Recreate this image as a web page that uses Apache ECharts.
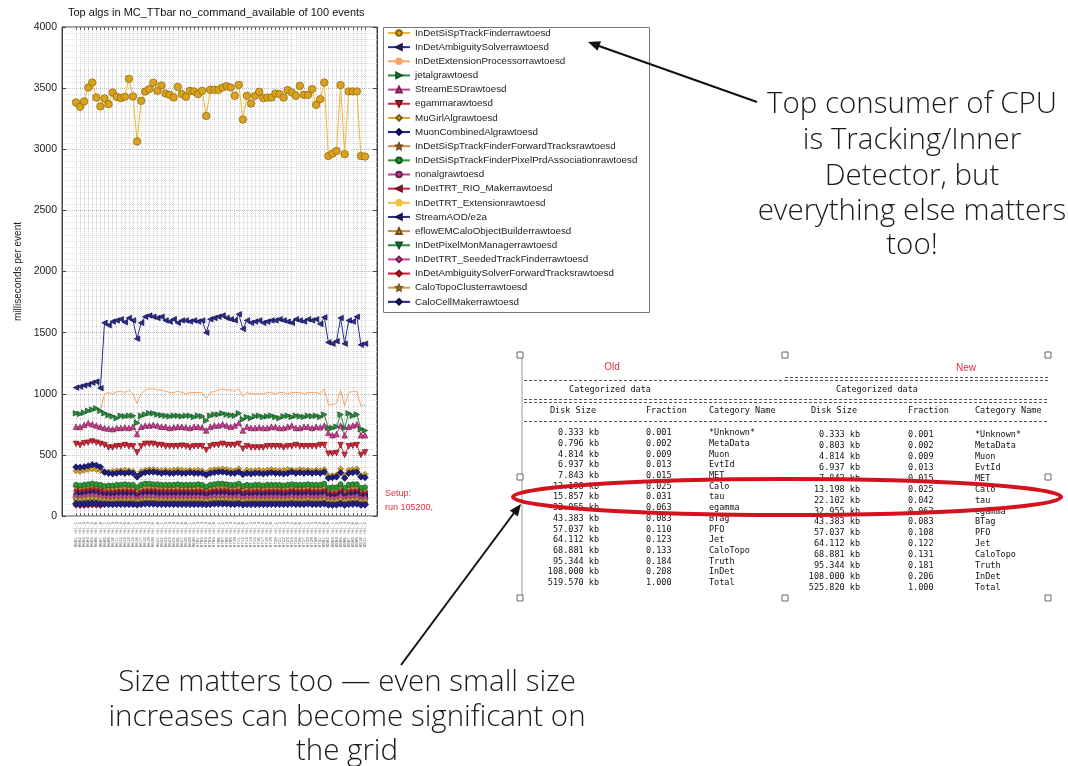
<!DOCTYPE html>
<html><head><meta charset="utf-8">
<script src="https://cdn.jsdelivr.net/npm/echarts@6/dist/echarts.min.js"></script>
<style>html,body{margin:0;padding:0;background:#fff}#c{width:1068px;height:766px}</style>
</head><body><div id="c"></div>
<script>
const chartTitle = "Top algs in MC_TTbar no_command_available of 100 events";
const yTicks = [0, 500, 1000, 1500, 2000, 2500, 3000, 3500, 4000];
const events = [
"0601 rel_1","0602 rel_2","0603 rel_3","0604 rel_4","0605 rel_5","0606 rel_6","0607 rel_0","0608 rel_1","0609 rel_2","0610 rel_3","0611 rel_4","0612 rel_5",
"0613 rel_6","0614 rel_0","0615 rel_1","0616 rel_2","0617 rel_3","0618 rel_4","0619 rel_5","0620 rel_6","0621 rel_0","0622 rel_1","0623 rel_2","0624 rel_3",
"0625 rel_4","0626 rel_5","0627 rel_6","0628 rel_0","0629 rel_1","0630 rel_2","0701 rel_3","0702 rel_4","0703 rel_5","0704 rel_6","0705 rel_0","0706 rel_1",
"0707 rel_2","0708 rel_3","0709 rel_4","0710 rel_5","0711 rel_6","0712 rel_0","0713 rel_1","0714 rel_2","0715 rel_3","0716 rel_4","0717 rel_5","0718 rel_6",
"0719 rel_0","0720 rel_1","0721 rel_2","0722 rel_3","0723 rel_4","0724 rel_5","0725 rel_6","0726 rel_0","0727 rel_1","0728 rel_2","0729 rel_3","0730 rel_4",
"0731 rel_5","0801 rel_6","0802 rel_0","0803 rel_1","0804 rel_2","0805 rel_3","0806 rel_4","0807 rel_5","0808 rel_6","0809 rel_0","0810 rel_1","0811 rel_2"];

const algNames = [
"InDetSiSpTrackFinderrawtoesd","InDetAmbiguitySolverrawtoesd","InDetExtensionProcessorrawtoesd","jetalgrawtoesd",
"StreamESDrawtoesd","egammarawtoesd","MuGirlAlgrawtoesd","MuonCombinedAlgrawtoesd",
"InDetSiSpTrackFinderForwardTracksrawtoesd","InDetSiSpTrackFinderPixelPrdAssociationrawtoesd","nonalgrawtoesd","InDetTRT_RIO_Makerrawtoesd",
"InDetTRT_Extensionrawtoesd","StreamAOD/e2a","eflowEMCaloObjectBuilderrawtoesd","InDetPixelMonManagerrawtoesd",
"InDetTRT_SeededTrackFinderrawtoesd","InDetAmbiguitySolverForwardTracksrawtoesd","CaloTopoClusterrawtoesd","CaloCellMakerrawtoesd"];

const siSpTrackFinder = [3383,3347,3391,3505,3546,3423,3350,3415,3369,3464,3429,3418,
 3429,3576,3432,3063,3396,3473,3492,3544,3478,3522,3456,3445,
 3423,3511,3451,3429,3478,3473,3451,3478,3273,3486,3486,3486,
 3505,3516,3505,3437,3527,3243,3437,3374,3437,3470,3418,3423,
 3423,3456,3451,3423,3484,3464,3437,3519,3445,3445,3492,3363,
 3410,3546,2945,2964,2986,3525,2959,3473,3473,3473,2945,2940];
const ambiguitySolver = [1050,1058,1068,1075,1090,1100,1045,1580,1560,1590,1600,1610,
 1585,1620,1600,1450,1580,1630,1640,1630,1620,1630,1600,1590,
 1610,1580,1600,1600,1590,1600,1590,1600,1500,1610,1620,1630,
 1640,1620,1610,1600,1650,1530,1600,1580,1590,1600,1580,1590,
 1600,1600,1610,1600,1590,1580,1610,1600,1590,1610,1600,1610,
 1570,1625,1420,1410,1430,1620,1410,1600,1590,1630,1400,1410];
const extensionProcessor = [null,null,null,null,null,null,855,1000,1010,1000,1015,1020,
 1010,1030,1000,920,1000,1030,1040,1040,1030,1030,1020,1010,
 1010,1020,1010,1000,1010,1010,1010,1010,960,1010,1020,1030,
 1040,1030,1030,1020,1040,980,1010,1000,1000,1000,1000,1010,
 1010,1000,1010,1010,1000,1010,1010,1010,1000,1010,1010,1010,
 1000,1040,910,910,920,1030,900,1010,1020,1020,900,910];
const jetalg = [840,835,845,860,870,880,860,840,825,815,800,820,
 815,820,820,760,820,830,840,840,830,825,820,815,
 820,820,815,820,820,810,820,815,780,820,830,830,
 840,830,825,820,840,790,810,800,815,820,810,815,
 820,810,800,815,820,810,820,815,810,820,815,820,
 810,830,720,720,730,830,720,840,820,830,710,700];
const streamESD = [730,728,745,760,750,740,730,720,715,710,720,720,
 725,720,730,670,730,740,740,745,740,730,730,720,
 725,730,730,725,720,730,730,725,700,730,740,740,
 750,740,730,740,760,700,730,720,720,725,720,720,
 730,728,720,720,730,740,720,720,730,730,720,730,
 725,740,680,660,670,740,660,730,740,750,660,660];
const egamma = [590,580,595,600,610,600,590,580,560,560,570,570,
 580,570,570,520,570,590,590,590,580,580,570,570,
 570,570,575,570,560,570,570,570,540,570,580,580,
 590,580,580,580,590,550,570,560,560,560,560,570,
 570,570,570,560,570,570,580,570,570,570,570,570,
 580,580,510,510,515,580,500,570,575,580,500,520];
const muGirl = [370,365,375,380,385,380,370,355,360,365,370,370,
 375,370,365,330,365,375,380,380,375,370,375,370,
 375,380,375,370,375,370,375,370,350,375,380,380,
 385,380,375,370,385,350,375,370,370,375,370,375,
 380,375,370,375,380,375,370,380,375,375,370,375,
 370,380,330,330,335,385,330,375,380,385,330,340];
const muonCombined = [400,398,402,410,420,415,400,360,350,345,350,355,
 350,355,350,320,345,355,360,360,355,350,355,350,
 350,355,350,350,355,350,350,350,335,350,355,360,
 360,355,350,350,360,340,350,345,350,350,345,350,
 355,350,350,345,350,360,350,355,350,355,350,355,
 350,360,310,315,320,355,310,350,355,360,320,315];
const forwardTracks = [235,230,240,245,250,245,235,225,225,220,225,225,
 230,225,225,200,225,230,235,235,230,230,225,225,
 225,230,225,225,225,225,230,225,210,225,230,230,
 235,230,225,225,235,215,225,220,225,225,220,225,
 225,225,225,220,225,230,225,225,225,230,225,225,
 225,235,200,200,205,230,200,225,230,230,200,205];
const pixelPrdAssoc = [255,250,255,260,265,260,255,245,250,250,255,255,
 260,255,255,235,255,265,265,260,260,255,255,255,
 255,260,255,255,255,255,260,255,240,255,260,265,
 265,260,255,255,265,245,255,250,255,255,250,255,
 255,255,255,250,255,260,255,255,255,260,255,255,
 255,265,230,235,235,260,230,255,260,260,230,235];
const nonalg = [170,165,170,175,180,175,170,165,160,160,165,165,
 165,165,165,150,165,170,170,170,165,165,165,165,
 165,165,165,165,165,165,165,165,155,165,170,170,
 170,170,165,165,170,155,165,160,165,165,160,165,
 165,165,165,160,165,170,165,165,165,170,165,165,
 165,170,150,150,150,170,150,165,165,170,150,150];
const trtRioMaker = [205,200,205,210,215,210,205,195,195,195,200,200,
 200,200,200,185,200,205,205,205,200,200,200,200,
 200,200,200,200,200,200,200,200,190,200,205,205,
 205,205,200,200,205,190,200,195,200,200,195,200,
 200,200,200,195,200,205,200,200,200,205,200,200,
 200,205,185,185,185,205,185,200,200,205,185,185];
const trtExtension = [218,212,216,222,228,221,214,208,211,206,210,212,
 209,211,210,194,209,216,214,217,211,209,212,208,
 210,213,209,211,208,210,212,209,199,211,214,216,
 217,213,211,209,216,201,210,206,209,211,204,210,
 211,208,210,206,209,214,211,209,210,216,209,211,
 208,216,196,194,197,214,195,209,211,216,194,196];
const streamAOD = [185,180,185,190,195,190,180,175,175,175,180,180,
 180,180,178,165,180,185,185,185,180,180,180,178,
 180,180,180,180,180,178,180,180,170,180,185,185,
 185,185,180,180,185,172,180,175,180,180,176,180,
 180,180,180,176,180,185,180,180,180,185,180,180,
 180,185,168,165,168,185,166,180,182,185,166,168];
const eflowEMCalo = [150,145,150,155,160,155,148,142,142,140,145,145,
 145,145,145,132,145,150,150,150,145,145,145,145,
 145,145,145,145,145,145,145,145,138,145,150,150,
 150,150,145,145,150,138,145,142,145,145,142,145,
 145,145,145,142,145,150,145,145,145,150,145,145,
 145,150,135,133,135,150,134,145,146,150,134,135];
const pixelMon = [128,125,128,132,135,132,126,122,122,120,124,124,
 124,124,124,115,124,128,128,128,124,124,124,124,
 124,124,124,124,124,124,124,124,118,124,128,128,
 128,128,124,124,128,118,124,122,124,124,122,124,
 124,124,124,122,124,128,124,124,124,128,124,124,
 124,128,116,115,116,128,115,124,125,128,115,116];
const trtSeeded = [160,155,160,165,168,165,158,152,152,150,155,155,
 155,155,155,142,155,160,160,160,155,155,155,155,
 155,155,155,155,155,155,155,155,148,155,160,160,
 160,160,155,155,160,148,155,152,155,155,152,155,
 155,155,155,152,155,160,155,155,155,160,155,155,
 155,160,145,143,145,160,144,155,156,160,144,145];
const ambSolverFwd = [88,85,86,88,90,88,86,110,112,110,112,112,
 112,112,112,104,112,115,115,115,112,112,112,112,
 112,112,112,112,112,112,112,112,108,112,115,115,
 115,115,112,112,115,106,112,110,112,112,110,112,
 112,112,112,110,112,115,112,112,112,115,112,112,
 112,115,104,103,104,115,103,112,113,115,103,104];
const caloTopo = [140,136,140,145,148,145,138,132,132,130,134,134,
 134,134,134,124,134,138,138,138,134,134,134,134,
 134,134,134,134,134,134,134,134,128,134,138,138,
 138,138,134,134,138,128,134,132,134,134,132,134,
 134,134,134,132,134,138,134,134,134,138,134,134,
 134,138,126,125,126,138,125,134,135,138,125,126];
const caloCellMaker = [100,98,100,102,104,102,99,96,96,95,97,97,
 97,97,97,92,97,100,100,100,97,97,97,97,
 97,97,97,97,97,97,97,97,94,97,100,100,
 100,100,97,97,100,93,97,96,97,97,96,97,
 97,97,97,96,97,100,97,97,97,100,97,97,
 97,100,92,91,92,100,91,97,98,100,91,92];

const seriesValues = [siSpTrackFinder, ambiguitySolver, extensionProcessor, jetalg, streamESD, egamma, muGirl, muonCombined,
  forwardTracks, pixelPrdAssoc, nonalg, trtRioMaker, trtExtension, streamAOD, eflowEMCalo, pixelMon, trtSeeded, ambSolverFwd, caloTopo, caloCellMaker];

// table (Old / New)
const catNames = ["*Unknown*","MetaData","Muon","EvtId","MET","Calo","tau","egamma","BTag","PFO","Jet","CaloTopo","Truth","InDet","Total"];
const oldSize = ["0.333","0.796","4.814","6.937","7.843","13.198","15.857","32.955","43.383","57.037","64.112","68.881","95.344","108.000","519.570"];
const oldFrac = ["0.001","0.002","0.009","0.013","0.015","0.025","0.031","0.063","0.083","0.110","0.123","0.133","0.184","0.208","1.000"];
const newSize = ["0.333","0.803","4.814","6.937","7.842","13.198","22.102","32.955","43.383","57.037","64.112","68.881","95.344","108.000","525.820"];
const newFrac = ["0.001","0.002","0.009","0.013","0.015","0.025","0.042","0.063","0.083","0.108","0.122","0.131","0.181","0.206","1.000"];

// styles
const STAR = 'path://M0,-10L2.9,-4L9.5,-3.1L4.7,1.5L5.9,8.1L0,5L-5.9,8.1L-4.7,1.5L-9.5,-3.1L-2.9,-4Z';
const THIN = 'path://M0,-10L4.5,0L0,10L-4.5,0Z';
const styles = [
 {c:'#f0b532', f:'#d9a21c', b:'#8a6510', s:'circle', z:7.5, r:0},
 {c:'#2b2b8c', f:'#2b2b8c', b:'#15154a', s:'triangle', z:5.5, r:90},
 {c:'#f6a66a', f:'#f6a66a', b:'#f6a66a', s:'none', z:0, r:0},
 {c:'#2a8a3e', f:'#2a8a3e', b:'#145020', s:'triangle', z:5.5, r:-90},
 {c:'#c2418e', f:'#c2418e', b:'#7a2050', s:'triangle', z:5.5, r:0},
 {c:'#d12a3a', f:'#d12a3a', b:'#7a1018', s:'triangle', z:5.5, r:180},
 {c:'#d8a52a', f:'#d8a52a', b:'#7a5a10', s:'diamond', z:6, r:0},
 {c:'#1e1e85', f:'#1e1e85', b:'#0a0a40', s:'diamond', z:6.5, r:0},
 {c:'#d2874a', f:'#d2874a', b:'#7a4a18', s:STAR, z:6, r:0},
 {c:'#2a9a35', f:'#2a9a35', b:'#145a18', s:'circle', z:5, r:0},
 {c:'#c23a92', f:'#c23a92', b:'#702050', s:'circle', z:5, r:0},
 {c:'#c5253a', f:'#c5253a', b:'#701018', s:'triangle', z:5, r:90},
 {c:'#f2c23c', f:'#f2c23c', b:'#f2c23c', s:'none', z:0, r:0},
 {c:'#2b2b8c', f:'#2b2b8c', b:'#15154a', s:'triangle', z:5, r:90},
 {c:'#d2874a', f:'#d2874a', b:'#7a4a18', s:'triangle', z:5, r:0},
 {c:'#2a8a3e', f:'#2a8a3e', b:'#145020', s:'triangle', z:5, r:180},
 {c:'#d04aa2', f:'#d04aa2', b:'#702050', s:THIN, z:6, r:0},
 {c:'#e0142a', f:'#e0142a', b:'#801018', s:'diamond', z:6, r:0},
 {c:'#c8a448', f:'#c8a448', b:'#7a6020', s:STAR, z:6, r:0},
 {c:'#222288', f:'#222288', b:'#0a0a40', s:'diamond', z:7, r:0}
];

const series = algNames.map((name, i) => ({
  name: name, type: 'line', xAxisIndex: 1, yAxisIndex: 2,
  data: seriesValues[i],
  symbol: styles[i].s, symbolSize: styles[i].z, symbolRotate: styles[i].r,
  showSymbol: styles[i].s !== 'none',
  lineStyle: {color: styles[i].c, width: 1},
  itemStyle: {color: styles[i].f, borderColor: styles[i].b, borderWidth: 0.7},
  emphasis: {disabled: true}, animation: false, silent: true
}));

// ---------- graphic: annotations + table ----------
const mono = '8.5px "DejaVu Sans Mono"';
const g = [];
function txt(x, y, t, font, fill, align) {
  g.push({type: 'text', x: x, y: y, silent: true,
    style: {text: t, font: font, fill: fill, textAlign: align || 'left', textVerticalAlign: 'middle'}});
}
function ln(x1, y1, x2, y2, color, w, dash) {
  g.push({type: 'line', silent: true, shape: {x1: x1, y1: y1, x2: x2, y2: y2},
    style: {stroke: color, lineWidth: w, lineDash: dash || null}});
}
// chart title & setup note
txt(68, 13, chartTitle, '11px "Liberation Sans"', '#111');
txt(385, 494, 'Setup:', '9px "Liberation Sans"', '#e0303a');
txt(385, 508, 'run 105200,', '9px "Liberation Sans"', '#e0303a');
// legend box
g.push({type: 'rect', silent: true, shape: {x: 383.5, y: 27.5, width: 266, height: 285},
  style: {fill: 'none', stroke: '#777', lineWidth: 1}});

// big annotations
const bigFont = '300 29.5px "Open Sans"';
const rightNote = ["Top consumer of CPU", "is Tracking/Inner", "Detector, but", "everything else matters", "too!"];
const rightY = [105, 141, 177, 212, 246];
rightNote.forEach((t, i) => txt(912, rightY[i], t, bigFont, '#1a1a1a', 'center'));
const bottomNote = ["Size matters too \u2014 even small size", "increases can become significant on", "the grid"];
const bottomY = [683, 718, 752];
bottomNote.forEach((t, i) => txt(347, bottomY[i], t, bigFont, '#1a1a1a', 'center'));
// arrows
ln(757, 102, 599, 46, '#111', 2);
g.push({type: 'polygon', silent: true, shape: {points: [[588, 42], [601, 41.3], [597.6, 50.7]]}, style: {fill: '#111'}});
ln(401, 665, 514, 513, '#111', 2);
g.push({type: 'polygon', silent: true, shape: {points: [[521, 504], [517.8, 516.6], [509.8, 510.6]]}, style: {fill: '#111'}});

// table image
ln(522, 358, 522, 596, '#999', 1);
txt(612, 367, 'Old', '10px "Liberation Sans"', '#e03040', 'center');
txt(966, 368, 'New', '10px "Liberation Sans"', '#e03040', 'center');
ln(524, 380.5, 785, 380.5, '#555', 1, [3, 2]);
ln(785, 377.5, 1048, 377.5, '#555', 1, [3, 2]);
ln(785, 380.5, 1048, 380.5, '#555', 1, [3, 2]);
txt(610, 390, 'Categorized data', mono, '#111', 'center');
txt(877, 390, 'Categorized data', mono, '#111', 'center');
ln(524, 399.5, 1048, 399.5, '#555', 1, [3, 2]);
ln(524, 402.5, 1048, 402.5, '#555', 1, [3, 2]);
txt(573, 411, 'Disk Size', mono, '#111', 'center');
txt(646, 411, 'Fraction', mono, '#111');
txt(709, 411, 'Category Name', mono, '#111');
txt(834, 411, 'Disk Size', mono, '#111', 'center');
txt(908, 411, 'Fraction', mono, '#111');
txt(975, 411, 'Category Name', mono, '#111');
ln(524, 421.5, 1048, 421.5, '#555', 1, [3, 2]);
catNames.forEach((n, i) => {
  const yo = 433 + i * 10.7, yn = 435 + i * 10.9;
  txt(599, yo, oldSize[i] + ' kb', mono, '#111', 'right');
  txt(646, yo, oldFrac[i], mono, '#111');
  txt(709, yo, n, mono, '#111');
  txt(860, yn, newSize[i] + ' kb', mono, '#111', 'right');
  txt(908, yn, newFrac[i], mono, '#111');
  txt(975, yn, n, mono, '#111');
});
// selection handles
[[520,355],[785,355],[1048,355],[520,477],[1048,477],[520,598],[785,598],[1048,598]].forEach(p => {
  g.push({type: 'rect', silent: true, shape: {x: p[0] - 3, y: p[1] - 3, width: 6, height: 6},
    style: {fill: '#fff', stroke: '#666', lineWidth: 1}});
});
// red ellipse
g.push({type: 'ellipse', silent: true, shape: {cx: 787, cy: 497, rx: 274, ry: 18},
  style: {fill: 'none', stroke: '#d4121e', lineWidth: 4}, z: 100});

const chart = echarts.init(document.getElementById('c'), null, {renderer: 'canvas'});
chart.setOption({
  animation: false,
  backgroundColor: '#fff',
  textStyle: {fontFamily: '"Liberation Sans", "DejaVu Sans", sans-serif'},
  grid: [
    {left: 62, top: 27, width: 315, height: 489, show: true, borderColor: '#444', borderWidth: 1, backgroundColor: 'transparent'},
    {left: 76, top: 27, width: 289, height: 489}
  ],
  legend: {
    data: algNames, orient: 'vertical', left: 387, top: 28, padding: 0,
    itemWidth: 22, itemHeight: 7, itemGap: 4.15, selectedMode: false,
    textStyle: {fontSize: 9.8, color: '#222', lineHeight: 10, fontFamily: '"Liberation Sans"'}
  },
  xAxis: [
    {gridIndex: 0, type: 'value', min: 0, max: 1, axisLine: {show: false}, axisTick: {show: false}, axisLabel: {show: false}, splitLine: {show: false}},
    {gridIndex: 1, type: 'category', data: events, boundaryGap: false,
      axisLine: {show: false},
      axisTick: {show: true, inside: true, length: 3, interval: 0, lineStyle: {color: '#666'}},
      axisLabel: {rotate: 90, fontSize: 4.2, interval: 0, color: '#666', margin: 6, fontFamily: '"DejaVu Sans Mono"'},
      splitLine: {show: true, interval: 0, lineStyle: {color: '#cfcfcf', type: 'dotted', width: 1}}},
    {gridIndex: 1, type: 'category', data: events, boundaryGap: false, position: 'top',
      axisLine: {show: false}, axisTick: {show: true, inside: true, length: 3, interval: 0, lineStyle: {color: '#666'}},
      axisLabel: {show: false}, splitLine: {show: false}}
  ],
  yAxis: [
    {gridIndex: 0, type: 'value', min: 0, max: 4000, interval: 500,
      name: 'milliseconds per event', nameLocation: 'middle', nameGap: 39, nameRotate: 90,
      nameTextStyle: {fontSize: 10, color: '#222'},
      axisLine: {show: true, lineStyle: {color: '#444'}},
      axisTick: {show: true, inside: true, length: 4, lineStyle: {color: '#444'}},
      axisLabel: {fontSize: 10.5, color: '#222', margin: 5, formatter: v => (yTicks.indexOf(v) >= 0 ? String(v) : '')},
      splitLine: {show: true, lineStyle: {color: '#bdbdbd', type: 'dotted'}},
      minorTick: {show: false, splitNumber: 10},
      minorSplitLine: {show: true, lineStyle: {color: '#dedede', type: 'dotted'}}},
    {gridIndex: 0, type: 'value', min: 0, max: 4000, interval: 500, position: 'right',
      axisLine: {show: true, lineStyle: {color: '#444'}},
      axisTick: {show: true, inside: true, length: 4, lineStyle: {color: '#444'}},
      axisLabel: {show: false}, splitLine: {show: false}},
    {gridIndex: 1, type: 'value', min: 0, max: 4000, show: false}
  ],
  series: series,
  graphic: g
});
</script>
</body></html>
